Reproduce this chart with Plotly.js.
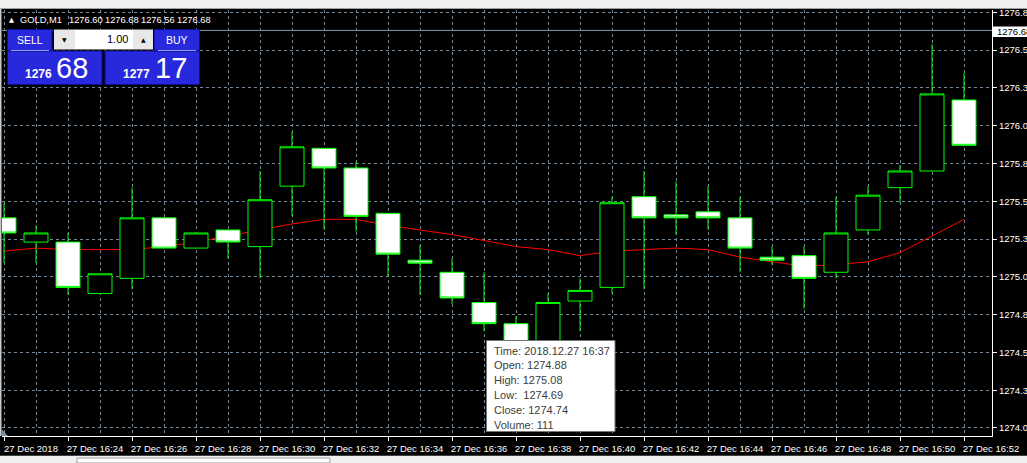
<!DOCTYPE html>
<html>
<head>
<meta charset="utf-8">
<script src="https://cdn.plot.ly/plotly-3.0.1.min.js"></script>
<style>
  html, body { margin: 0; padding: 0; background: #000; }
  #chart { width: 1027px; height: 463px; }
</style>
</head>
<body>
<div id="chart"></div>
<script>
// ---------- data ----------
const times = [
  '2018-12-27 16:22','2018-12-27 16:23','2018-12-27 16:24','2018-12-27 16:25','2018-12-27 16:26',
  '2018-12-27 16:27','2018-12-27 16:28','2018-12-27 16:29','2018-12-27 16:30','2018-12-27 16:31',
  '2018-12-27 16:32','2018-12-27 16:33','2018-12-27 16:34','2018-12-27 16:35','2018-12-27 16:36',
  '2018-12-27 16:37','2018-12-27 16:38','2018-12-27 16:39','2018-12-27 16:40','2018-12-27 16:41',
  '2018-12-27 16:42','2018-12-27 16:43','2018-12-27 16:44','2018-12-27 16:45','2018-12-27 16:46',
  '2018-12-27 16:47','2018-12-27 16:48','2018-12-27 16:49','2018-12-27 16:50','2018-12-27 16:51',
  '2018-12-27 16:52'
];
const openP  = [1275.44,1275.28,1275.28,1274.94,1275.04,1275.44,1275.24,1275.36,1275.25,1275.65,
                1275.90,1275.77,1275.47,1275.16,1275.08,1274.88,1274.74,1274.58,1274.89,1274.98,
                1275.58,1275.46,1275.48,1275.44,1275.18,1275.19,1275.08,1275.36,1275.64,1275.75,1276.22];
const highP  = [1275.54,1275.39,1275.34,1275.07,1275.64,1275.44,1275.34,1275.36,1275.75,1276.01,
                1275.90,1275.81,1275.47,1275.26,1275.17,1275.08,1274.79,1274.94,1275.04,1275.58,
                1275.75,1275.68,1275.65,1275.58,1275.25,1275.25,1275.58,1275.65,1275.79,1276.59,1276.40];
const lowP   = [1275.14,1275.14,1274.93,1274.94,1274.97,1275.24,1275.24,1275.17,1275.04,1275.45,
                1275.36,1275.35,1275.05,1274.93,1274.87,1274.69,1274.52,1274.53,1274.69,1274.94,
                1274.97,1275.33,1275.36,1275.08,1275.13,1274.84,1275.04,1275.33,1275.54,1275.75,1275.92];
const closeP = [1275.34,1275.34,1274.98,1275.07,1275.44,1275.24,1275.34,1275.28,1275.56,1275.91,
                1275.77,1275.45,1275.20,1275.14,1274.91,1274.74,1274.58,1274.88,1274.96,1275.54,
                1275.44,1275.44,1275.44,1275.24,1275.16,1275.04,1275.34,1275.59,1275.75,1276.26,1275.92];
const maLine = [1275.22,1275.24,1275.23,1275.23,1275.23,1275.25,1275.28,1275.32,1275.36,1275.40,
                1275.43,1275.43,1275.39,1275.36,1275.33,1275.29,1275.25,1275.23,1275.19,1275.22,
                1275.23,1275.24,1275.23,1275.18,1275.15,1275.12,1275.13,1275.15,1275.21,1275.32,1275.43];

const xTickVals = ['2018-12-27 16:22','2018-12-27 16:24','2018-12-27 16:26','2018-12-27 16:28',
  '2018-12-27 16:30','2018-12-27 16:32','2018-12-27 16:34','2018-12-27 16:36','2018-12-27 16:38',
  '2018-12-27 16:40','2018-12-27 16:42','2018-12-27 16:44','2018-12-27 16:46','2018-12-27 16:48',
  '2018-12-27 16:50','2018-12-27 16:52'];
const xTickText = ['27 Dec 2018','27 Dec 16:24','27 Dec 16:26','27 Dec 16:28','27 Dec 16:30',
  '27 Dec 16:32','27 Dec 16:34','27 Dec 16:36','27 Dec 16:38','27 Dec 16:40','27 Dec 16:42',
  '27 Dec 16:44','27 Dec 16:46','27 Dec 16:48','27 Dec 16:50','27 Dec 16:52'];
const yTickVals = [1274.05,1274.30,1274.55,1274.80,1275.05,1275.30,1275.55,1275.80,1276.05,1276.30,1276.55,1276.80];
const yTickText = ['1274.05','1274.30','1274.55','1274.80','1275.05','1275.30','1275.55','1275.80','1276.05','1276.30','1276.55','1276.80'];

const symbol = 'GOLD,M1';
const headerOHLC = ['1276.60','1276.68','1276.56','1276.68'];
const bidPrice = 1276.68;
const sellBig = ['1276','68'];
const buyBig = ['1277','17'];
const lotSize = '1.00';
const tipIndex = 15;
const tipTime = '2018.12.27 16:37';
const tipVolume = 111;

// ---------- layout helpers ----------
const W = 1027, H = 463;
const M = {l: 2, r: 35, t: 10, b: 27};
const PW = W - M.l - M.r, PH = H - M.t - M.b;
const X = px => (px - M.l) / PW;
const Y = py => (H - M.b - py) / PH;
const FONT = 'Liberation Sans, Arial, sans-serif';
const GRID = '#778899';

const shapes = [];
const annotations = [];
function rect(x0, y0, x1, y1, fill, line, lw) {
  shapes.push({type:'rect', xref:'paper', yref:'paper', x0:X(x0), x1:X(x1), y0:Y(y1), y1:Y(y0),
    fillcolor: fill, line:{color: line || fill, width: lw === undefined ? (line ? 1 : 0) : lw}, layer:'above'});
}
function hline(x0, x1, y, color) {
  shapes.push({type:'line', xref:'paper', yref:'paper', x0:X(x0), x1:X(x1), y0:Y(y), y1:Y(y),
    line:{color, width:1}, layer:'above'});
}
function text(px, py, t, size, color, xanchor, extra) {
  annotations.push(Object.assign({xref:'paper', yref:'paper', x:X(px), y:Y(py), text:t, showarrow:false,
    xanchor: xanchor || 'left', yanchor:'middle', font:{family:FONT, size, color}}, extra || {}));
}

// window chrome
rect(0, 0, 1027, 8.5, '#f0f0f0');
hline(0, 1027, 8.5, '#a0a0a0');
rect(0, 455.5, 1027, 463, '#f0f0f0');
hline(0, 1027, 455.5, '#404040');
rect(77, 458, 330, 463, '#ffffff', '#a0a0a0');
rect(0, 8.5, 1.5, 436, '#c8c8c8');
// bottom-left shift marker
shapes.push({type:'path', xref:'paper', yref:'paper',
  path:`M ${X(1.5)} ${Y(429)} L ${X(1.5)} ${Y(436)} L ${X(8)} ${Y(436)} Z`,
  fillcolor:'#8090a0', line:{width:0}, layer:'above'});

// bid line
shapes.push({type:'line', xref:'paper', yref:'y', x0:0, x1:1, y0:bidPrice, y1:bidPrice,
  line:{color:'#8a98a6', width:1}, layer:'between'});
rect(993, 26.5, 1030, 37, '#ffffff');
text(995, 32, bidPrice.toFixed(2), 9.5, '#000000', 'left');

// header
text(7, 20, '▲', 6.5, '#ffffff', 'left', {font:{family:'DejaVu Sans', size:6.5, color:'#ffffff'}});
text(18, 20, symbol, 9.3, '#ffffff', 'left');
const hdrX = [67, 102.5, 138.5, 175];
headerOHLC.forEach((v, i) => text(hdrX[i], 20, v, 9.3, '#ffffff', 'left'));

// one-click trading panel
const BLUE = '#2828dc', BORDER = '#0c0c90';
rect(7.5, 29.5, 52, 51, BLUE, BORDER);
rect(7.5, 51, 102, 84.5, BLUE, BORDER);
rect(154, 29.5, 199.5, 51, BLUE, BORDER);
rect(105, 51, 199.5, 84.5, BLUE, BORDER);
rect(53.5, 29, 153.5, 50, '#e8e8e8', '#000000');
rect(75, 30, 133, 49, '#ffffff');
hline(11, 49, 50.5, '#9a9aff');
hline(158, 196, 50.5, '#9a9aff');
text(29.5, 40, 'SELL', 10.5, '#ffffff', 'center');
text(177, 40, 'BUY', 10.5, '#ffffff', 'center');
text(129.5, 39.5, lotSize, 11, '#000000', 'right');
text(64.5, 39.5, '▼', 6, '#000000', 'center', {font:{family:'DejaVu Sans', size:6, color:'#000000'}});
text(143, 39.5, '▲', 6, '#000000', 'center', {font:{family:'DejaVu Sans', size:6, color:'#000000'}});
text(23, 74, '<b>' + sellBig[0] + '</b>', 12, '#ffffff', 'left');
text(54, 67.5, sellBig[1], 29, '#ffffff', 'left');
text(120.5, 74, '<b>' + buyBig[0] + '</b>', 12, '#ffffff', 'left');
text(153, 67.5, buyBig[1], 29, '#ffffff', 'left');

// tooltip
rect(486.5, 340.5, 615, 431.5, '#ffffff', '#767676');
const tipLines = [
  'Time: ' + tipTime,
  'Open: ' + openP[tipIndex].toFixed(2),
  'High: ' + highP[tipIndex].toFixed(2),
  'Low: \u00a0' + lowP[tipIndex].toFixed(2),
  'Close: ' + closeP[tipIndex].toFixed(2),
  'Volume: ' + tipVolume
];
tipLines.forEach((t, i) => text(492, 350.5 + i * 14.8, t, 11, '#3c3c3c', 'left'));

// ---------- traces ----------
const traces = [
  {type:'scatter', mode:'lines', x: times, y: maLine, xaxis:'x', yaxis:'y',
   line:{color:'#ff0000', width:1}, hoverinfo:'skip', showlegend:false},
  {type:'candlestick', x: times, open: openP, high: highP, low: lowP, close: closeP,
   xaxis:'x', yaxis:'y2', whiskerwidth: 0, hoverinfo:'skip', showlegend:false,
   increasing:{line:{color:'#00ff00', width:1}, fillcolor:'#000000'},
   decreasing:{line:{color:'#00ff00', width:1}, fillcolor:'#ffffff'}}
];

const yRange = [1273.997, 1276.815];
const xRange = ['2018-12-27 16:21:56.25', '2018-12-27 16:52:52.5'];

const layout = {
  width: W, height: H,
  margin: M,
  paper_bgcolor: '#000000',
  plot_bgcolor: '#000000',
  showlegend: false,
  hovermode: false,
  boxgap: 0.25, boxgroupgap: 0,
  xaxis: {
    type:'date', range: xRange, fixedrange:true,
    tickmode:'array', tickvals: xTickVals, ticktext: xTickText,
    tickangle: 0, ticklabelshift: 27,
    tickfont:{family:FONT, size:9.5, color:'#ffffff'},
    ticks:'outside', ticklen:4, tickcolor:'#ffffff', tickwidth:1,
    showgrid:true, gridcolor:GRID, gridwidth:1, griddash:'3px,3px',
    minor:{dtick:60000, tick0:'2018-12-27 16:22', showgrid:true, gridcolor:GRID, gridwidth:1, griddash:'3px,3px', ticks:''},
    showline:true, linecolor:'#ffffff', linewidth:1,
    zeroline:false,
    rangeslider:{visible:false}
  },
  yaxis: {
    side:'right', range: yRange, fixedrange:true,
    tickmode:'array', tickvals: yTickVals, ticktext: yTickText,
    tickfont:{family:FONT, size:9.5, color:'#ffffff'},
    ticks:'outside', ticklen:4, tickcolor:'#ffffff', tickwidth:1,
    showgrid:true, gridcolor:GRID, gridwidth:1, griddash:'3px,3px',
    showline:true, linecolor:'#ffffff', linewidth:1,
    zeroline:false
  },
  yaxis2: {
    overlaying:'y', side:'right', range: yRange, fixedrange:true, visible:false
  },
  shapes, annotations
};

Plotly.newPlot('chart', traces, layout, {staticPlot:true, displayModeBar:false});
</script>
</body>
</html>
